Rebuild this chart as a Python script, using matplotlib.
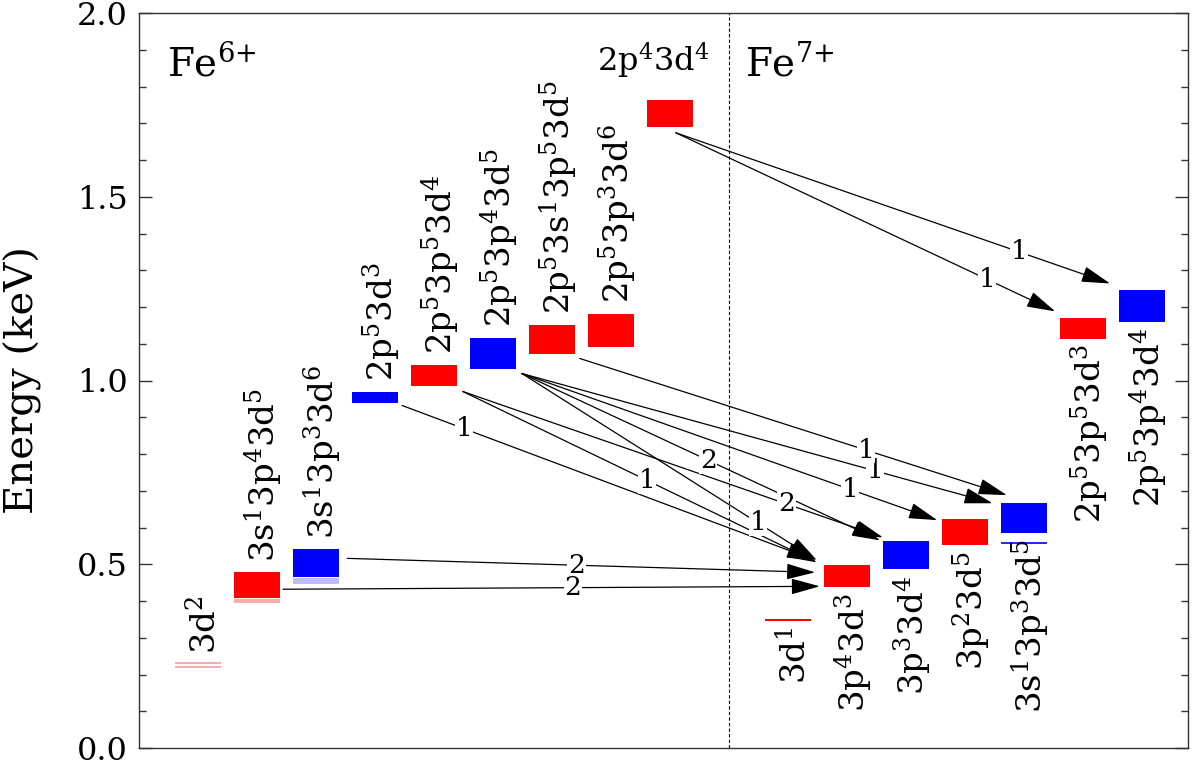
import matplotlib
matplotlib.use('Agg')
import matplotlib.pyplot as plt
from matplotlib.patches import FancyArrowPatch
from matplotlib.ticker import MultipleLocator, FormatStrFormatter

plt.rcParams['font.family'] = 'DejaVu Serif'
plt.rcParams['mathtext.fontset'] = 'dejavuserif'

# Fe6+ configurations (columns 0..8)
configs6 = ['3d^2', '3s^1 3p^4 3d^5', '3s^1 3p^3 3d^6', '2p^5 3d^3', '2p^5 3p^5 3d^4',
            '2p^5 3p^4 3d^5', '2p^5 3s^1 3p^5 3d^5', '2p^5 3p^3 3d^6', '2p^4 3d^4']
colors6 = ['r', 'r', 'b', 'b', 'r', 'b', 'r', 'r', 'r']
lo6 = [0.227, 0.409, 0.466, 0.940, 0.986, 1.030, 1.071, 1.090, 1.690]
hi6 = [0.227, 0.478, 0.541, 0.970, 1.043, 1.117, 1.152, 1.182, 1.764]

# Fe7+ configurations (columns 10..16)
configs7 = ['3d^1', '3p^4 3d^3', '3p^3 3d^4', '3p^2 3d^5', '3s^1 3p^3 3d^5',
            '2p^5 3p^5 3d^3', '2p^5 3p^4 3d^4']
colors7 = ['r', 'r', 'b', 'r', 'b', 'r', 'b']
lo7 = [0.346, 0.4375, 0.486, 0.552, 0.584, 1.114, 1.158]
hi7 = [0.350, 0.497, 0.5625, 0.622, 0.666, 1.171, 1.245]

# weak individual levels: (ion, config index, energy)
faint_ion = [6, 6, 6, 6, 6, 6, 6, 7]
faint_idx = [0, 0, 1, 1, 2, 2, 2, 4]
faint_e = [0.221, 0.231, 0.398, 0.403, 0.450, 0.455, 0.460, 0.557]

# transitions Fe6+ -> Fe7+
tr_src = [2, 1, 3, 4, 4, 5, 5, 5, 5, 6, 8, 8]
tr_dst = [1, 1, 1, 1, 2, 1, 2, 3, 4, 4, 5, 6]
tr_weight = ['2', '2', '1', '1', '2', '1', '2', '1', '1', '1', '1', '1']
tr_e_tail = [0.516, 0.432, 0.932, 0.970, 0.970, 1.019, 1.019, 1.019, 1.019, 1.060, 1.674, 1.674]
tr_e_head = [0.478, 0.440, 0.511, 0.505, 0.573, 0.511, 0.565, 0.620, 0.666, 0.688, 1.188, 1.264]

# layout of arrows (column offsets) and label placement along arrows
tail_dx = [0.53, 0.44, 0.46, 0.49, 0.49, 0.49, 0.49, 0.49, 0.49, 0.47, 0.10, 0.10]
head_dx = [-0.54, -0.46, -0.54, -0.51, -0.39, -0.51, -0.44, -0.47, -0.53, -0.29, -0.47, -0.54]
label_frac = [0.49, 0.54, 0.15, 0.52, 0.77, 0.80, 0.52, 0.79, 0.75, 0.67, 0.82, 0.79]

cols6 = list(range(len(configs6)))
cols7 = [10 + i for i in range(len(configs7))]
width = 0.77
cmap = {'r': '#ff0000', 'b': '#0000ff'}
faint_cmap = {'r': '#ff9a9a', 'b': '#b0b0ff'}

fig = plt.figure(figsize=(12, 7.63), dpi=100)
ax = fig.add_axes([139 / 1200, 15 / 763, 1049 / 1200, 735 / 763])

# level boxes
for cols, lo, hi, cs in [(cols6, lo6, hi6, colors6), (cols7, lo7, hi7, colors7)]:
    for x, a, b, c in zip(cols, lo, hi, cs):
        if b > a:
            ax.bar(x, b - a, bottom=a, width=width, color=cmap[c], linewidth=0, zorder=2)
for ion, i, e in zip(faint_ion, faint_idx, faint_e):
    if ion == 6:
        x, fc = cols6[i], faint_cmap[colors6[i]]
    else:
        x, fc = cols7[i], cmap[colors7[i]]
    ax.hlines(e, x - width / 2, x + width / 2, color=fc, lw=1.2, zorder=2)

# configuration labels
rot_fs = 24.5
for i, (x, name, b) in enumerate(zip(cols6, configs6, hi6)):
    txt = r'$\mathrm{' + name + '}$'
    if i == len(configs6) - 1:
        ax.text(x - 0.29, b + 0.075, txt, fontsize=23, ha='center', va='baseline')
    else:
        ax.text(x + 0.32, b + 0.028, txt, fontsize=rot_fs, rotation=90,
                rotation_mode='anchor', ha='left', va='baseline')
for x, name, a in zip(cols7, configs7, lo7):
    txt = r'$\mathrm{' + name + '}$'
    ax.text(x + 0.32, a - 0.016, txt, fontsize=rot_fs, rotation=90,
            rotation_mode='anchor', ha='right', va='baseline')

# transitions
for s, d, w, et, eh, tdx, hdx, f in zip(tr_src, tr_dst, tr_weight, tr_e_tail, tr_e_head,
                                         tail_dx, head_dx, label_frac):
    x0, y0 = cols6[s] + tdx, et
    x1, y1 = cols7[d] + hdx, eh
    arr = FancyArrowPatch((x0, y0), (x1, y1), arrowstyle='-|>,head_length=0.9,head_width=0.25',
                          mutation_scale=20, color='black', lw=0.9, shrinkA=0, shrinkB=0, zorder=3)
    ax.add_patch(arr)
    ax.text(x0 + f * (x1 - x0), y0 + f * (y1 - y0), w, fontsize=19, ha='center', va='center',
            zorder=4, bbox=dict(fc='white', ec='none', pad=0.5))

# ion separator
ax.axvline(9, color='black', lw=0.8, ls=(0, (3, 2)), zorder=1)

ax.text(0.027, 0.915, r'$\mathrm{Fe^{6{+}}}$', fontsize=28, transform=ax.transAxes, va='baseline')
ax.text(0.578, 0.915, r'$\mathrm{Fe^{7{+}}}$', fontsize=28, transform=ax.transAxes, va='baseline')

ax.set_xlim(-1.0, 16.78)
ax.set_ylim(0, 2.0)
ax.set_xticks([])
ax.yaxis.set_major_locator(MultipleLocator(0.5))
ax.yaxis.set_minor_locator(MultipleLocator(0.1))
ax.yaxis.set_major_formatter(FormatStrFormatter('%.1f'))
ax.tick_params(axis='y', which='both', direction='in', left=True, right=True, labelsize=23,
               color='#333333', width=1.0)
ax.tick_params(axis='y', which='major', length=9.5, pad=8)
ax.tick_params(axis='y', which='minor', length=5)
for sp in ax.spines.values():
    sp.set_color('#333333')
    sp.set_linewidth(1.0)
ax.set_ylabel('Energy (keV)', fontsize=29)
ax.yaxis.set_label_coords(-0.092, 0.5)

fig.savefig('out.png', dpi=100)
